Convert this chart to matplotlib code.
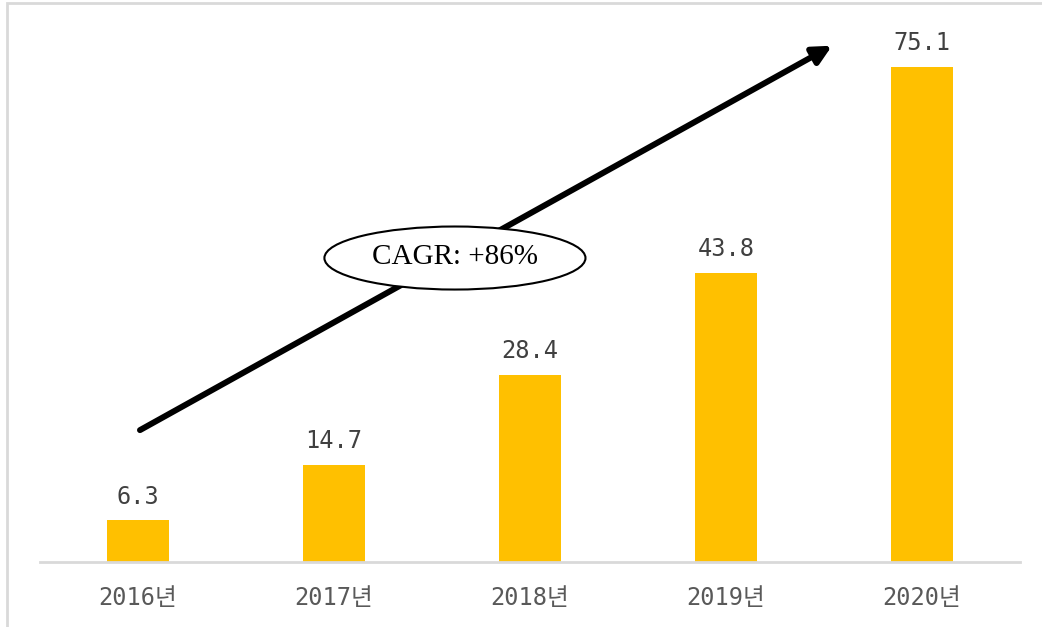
import matplotlib.pyplot as plt
from matplotlib.patches import Ellipse, Rectangle

years = ['2016년', '2017년', '2018년', '2019년', '2020년']
values = [6.3, 14.7, 28.4, 43.8, 75.1]
cagr_text = 'CAGR: +86%'

plt.rcParams['font.family'] = ['DejaVu Sans Mono', 'Noto Sans CJK KR']

fig = plt.figure(figsize=(10.42, 6.27), dpi=100)
ax = fig.add_axes([0.0384, 0.1037, 0.9405, 0.8644])

x = list(range(len(years)))
ax.bar(x, values, width=0.316, color='#FFC000', zorder=2)
for xi, v in zip(x, values):
    ax.text(xi, v + 1.8, f'{v:.1f}', ha='center', va='bottom',
            fontsize=17, color='#404040')

ax.set_xlim(-0.5, 4.5)
ax.set_ylim(0, 82.2)
ax.set_xticks(x)
ax.set_xticklabels(years, fontsize=17, color='#595959')
ax.tick_params(axis='x', length=0, pad=17)
ax.set_yticks([])
for s in ['top', 'right', 'left']:
    ax.spines[s].set_visible(False)
ax.spines['bottom'].set_color('#d9d9d9')
ax.spines['bottom'].set_linewidth(2)

# growth arrow
ax.annotate('', xy=(3.541, 78.3), xytext=(0.01, 20.0),
            arrowprops=dict(arrowstyle='-|>,head_length=1.1,head_width=0.55',
                            color='black', lw=4.3, shrinkA=0, shrinkB=0),
            zorder=3)

ell = Ellipse((1.617, 46.1), 1.332, 9.56, facecolor='white',
              edgecolor='black', lw=1.5, zorder=4)
ax.add_patch(ell)
ax.text(1.617, 46.3, cagr_text, ha='center', va='center', fontsize=21,
        family='Liberation Serif', color='black', zorder=5)

# outer frame
fig.patches.append(Rectangle((0.007, -0.01), 1.0, 1.005, transform=fig.transFigure,
                             fill=False, edgecolor='#d9d9d9', lw=2))

fig.savefig('out.png', dpi=100)
